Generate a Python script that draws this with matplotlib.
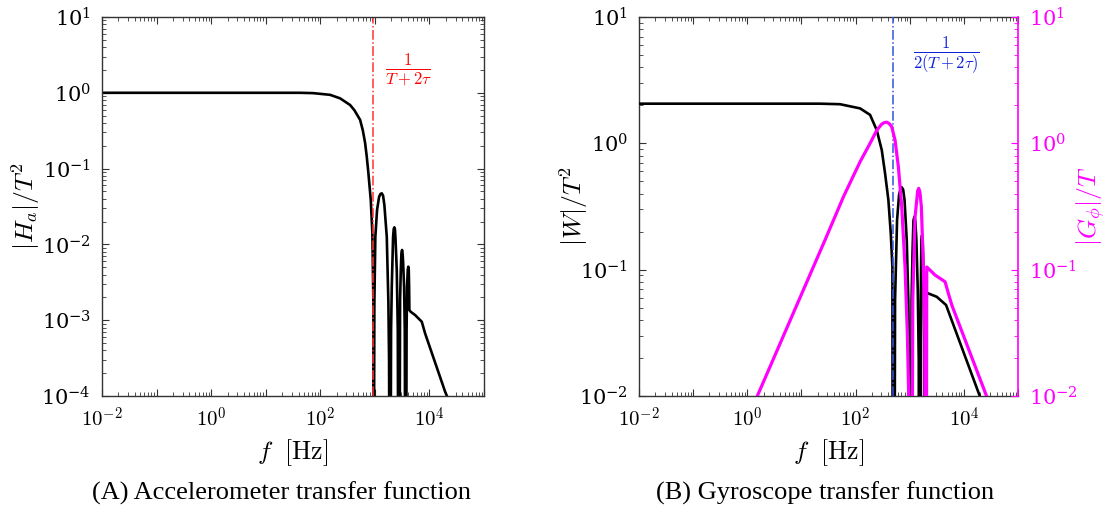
import numpy as np
import matplotlib
matplotlib.use("Agg")
import matplotlib.pyplot as plt
from matplotlib.ticker import LogLocator, NullFormatter, FixedLocator, FixedFormatter

plt.rcParams['mathtext.fontset'] = 'cm'
plt.rcParams['font.family'] = ['DejaVu Serif']

# values (zeros of the lobes drawn below the axis)
ZERO = 1e-6

# (a) accelerometer |H_a|/T^2
acc_f = [0.01, 42.5, 73.6, 151, 230, 351, 420, 535, 600, 661, 710, 759, 839, 898, 937, 951,
         977, 1018, 1094, 1191, 1260, 1336, 1410, 1490, 1649, 1765, 1816, 1857,
         1920, 1977, 2036, 2152, 2210, 2271, 2330, 2389, 2513, 2624, 2690,
         2807, 2891, 2978, 3060, 3146, 3215, 3283, 3423, 3524, 3614,
         3724, 3802, 3883, 4000, 4102, 4170, 4225, 4276,
         4537, 5445, 7219, 8295, 19320, 23800]
acc_v = [1.0, 1.0, 0.99, 0.94, 0.845, 0.69, 0.59, 0.44, 0.32, 0.218, 0.142, 0.0875, 0.0386, 0.0141, 0.00169, ZERO,
         0.00169, 0.0126, 0.0284, 0.0422, 0.0462, 0.0472, 0.0440, 0.0331, 0.0126, 0.00169, 0.0003, ZERO,
         ZERO, 0.00074, 0.00277, 0.0126, 0.0160, 0.0168, 0.0157, 0.0114, 0.00459, 0.00074, ZERO,
         ZERO, 0.00185, 0.00459, 0.0077, 0.00844, 0.0075, 0.00586, 0.00277, 0.00074, ZERO,
         ZERO, 0.00074, 0.00277, 0.0047, 0.00508, 0.0046, 0.00291, 0.00136,
         0.00129, 0.00117, 0.000955, 0.000672, 0.000114, 0.00008]
acc_cut = 915  # 1/(T+2tau)

# (b) gyroscope |W|/T^2
gyr_f = [0.01, 22, 51.6, 121, 185, 246, 304, 350, 403, 446, 478, 492,
         502, 535, 583, 634, 670, 711, 755, 801, 879, 941, 970, 991,
         1035, 1080, 1127, 1170, 1217, 1270, 1325, 1406, 1466, 1504,
         1550, 1597, 1640, 1688, 1735, 1783, 1837, 1900,
         1983, 2060, 3152, 4680, 19860]
gyr_v = [2.06, 2.06, 2.04, 1.89, 1.68, 1.27, 0.885, 0.578, 0.356, 0.194, 0.105, ZERO,
         ZERO, 0.0574, 0.247, 0.39, 0.43, 0.449, 0.43, 0.356, 0.172, 0.0574, 0.016, ZERO,
         ZERO, 0.0574, 0.143, 0.245, 0.262, 0.24, 0.172, 0.0689, 0.0192, ZERO,
         ZERO, 0.0574, 0.175, 0.188, 0.165, 0.0993, 0.0277, ZERO,
         0.0134, 0.0656, 0.061, 0.0525, 0.00986]

# |G_phi|/T
gphi_f = [1.53, 27.3, 60, 121, 185, 246, 304, 340, 376, 420, 465, 535, 616, 711, 818, 903, 958, 965,
          1044, 1136, 1253, 1400, 1466, 1540, 1638, 1783, 1891, 1974,
          2060, 2548, 2931, 3628, 4487, 5165, 5970, 26400]
gphi_v = [0.01, 0.172, 0.38, 0.715, 1.0, 1.27, 1.42, 1.46, 1.47, 1.43, 1.35, 1.06, 0.653, 0.315, 0.105, 0.0313, 0.0099, ZERO,
          ZERO, 0.0574, 0.262, 0.42, 0.44, 0.41, 0.315, 0.105, 0.0313, ZERO,
          0.105, 0.0962, 0.0906, 0.0853, 0.0802, 0.0649, 0.0525, 0.0099]
gyr_cut = 485  # 1/(2(T+2tau))

xticks = [1e-2, 1e-1, 1e0, 1e1, 1e2, 1e3, 1e4, 1e5]
xlabels = [r'$10^{-2}$', '', r'$10^{0}$', '', r'$10^{2}$', '', r'$10^{4}$', '']

TICK_FS = 15
LABEL_FS = 18.5
MAG = '#ff00ff'


def style_axis(ax):
    ax.set_xscale('log')
    ax.set_yscale('log')
    ax.set_xlim(1e-2, 1e5)
    ax.xaxis.set_major_locator(FixedLocator(xticks))
    ax.xaxis.set_major_formatter(FixedFormatter(xlabels))
    ax.xaxis.set_minor_locator(LogLocator(base=10, subs=np.arange(2, 10), numticks=20))
    ax.xaxis.set_minor_formatter(NullFormatter())
    ax.yaxis.set_minor_locator(LogLocator(base=10, subs=np.arange(2, 10), numticks=20))
    ax.yaxis.set_minor_formatter(NullFormatter())
    ax.tick_params(which='both', direction='in', labelsize=TICK_FS, color='#333333')
    ax.tick_params(which='major', length=5, width=0.8, pad=8)
    ax.tick_params(which='minor', length=3, width=0.6)
    for s in ax.spines.values():
        s.set_color('#333333')
        s.set_linewidth(1.0)


fig = plt.figure(figsize=(11.09, 5.18), dpi=100)
ax1 = fig.add_axes([0.092, 0.2355, 0.3445, 0.7317])
ax2 = fig.add_axes([0.5762, 0.2355, 0.3418, 0.7317])

# --- panel A
style_axis(ax1)
ax1.set_ylim(1e-4, 1e1)
ax1.tick_params(which='both', top=True, right=True)
ax1.plot(acc_f, acc_v, color='black', lw=1.9, solid_joinstyle='round')
ax1.axvline(acc_cut, color='#ff3333', lw=1.1, ls='-.')
ax1.text(4045, 2.0, r'$\frac{1}{T+2\tau}$', color='red', fontsize=17,
         ha='center', va='center')
ax1.set_xlabel(r'$f\ \ [\mathrm{Hz}]$', fontsize=LABEL_FS)
ax1.xaxis.set_label_coords(0.5, -0.11)
ax1.set_ylabel(r'$|H_a|/T^2$', fontsize=LABEL_FS)
ax1.yaxis.set_label_coords(-0.157, 0.5)

# --- panel B
style_axis(ax2)
ax2.set_ylim(1e-2, 1e1)
ax2.tick_params(which='both', top=True)
ax2.spines['right'].set_visible(False)
ax2.plot(gyr_f, gyr_v, color='black', lw=1.9, solid_joinstyle='round', zorder=3)
ax2.axvline(gyr_cut, color='#3355dd', lw=1.1, ls='-.', zorder=4)
ax2.text(4690, 5.0, r'$\frac{1}{2(T+2\tau)}$', color='#1122dd', fontsize=17,
         ha='center', va='center')
ax2.set_xlabel(r'$f\ \ [\mathrm{Hz}]$', fontsize=LABEL_FS)
ax2.xaxis.set_label_coords(0.5, -0.11)
ax2.set_ylabel(r'$|W|/T^2$', fontsize=LABEL_FS)
ax2.yaxis.set_label_coords(-0.13, 0.5)

ax3 = ax2.twinx()
ax3.set_yscale('log')
ax3.set_ylim(1e-2, 1e1)
ax3.plot(gphi_f, gphi_v, color=MAG, lw=2.3, solid_joinstyle='round')
ax3.yaxis.set_minor_locator(LogLocator(base=10, subs=np.arange(2, 10), numticks=20))
ax3.yaxis.set_minor_formatter(NullFormatter())
ax3.tick_params(which='both', direction='in', labelsize=TICK_FS, color=MAG, labelcolor=MAG)
ax3.tick_params(which='major', length=5, width=0.8, pad=8)
ax3.tick_params(which='minor', length=3, width=0.6)
for name, s in ax3.spines.items():
    s.set_visible(name == 'right')
ax3.spines['right'].set_color(MAG)
ax3.spines['right'].set_linewidth(1.2)
ax3.set_ylabel(r'$|G_\phi|/T$', fontsize=LABEL_FS, color=MAG)
ax3.yaxis.set_label_coords(1.148, 0.5)

# captions
fig.text(0.254, 0.048, '(A) Accelerometer transfer function', fontsize=19,
         family='Liberation Serif', ha='center', va='center')
fig.text(0.744, 0.048, '(B) Gyroscope transfer function', fontsize=19,
         family='Liberation Serif', ha='center', va='center')

fig.savefig('out.png', dpi=100)
